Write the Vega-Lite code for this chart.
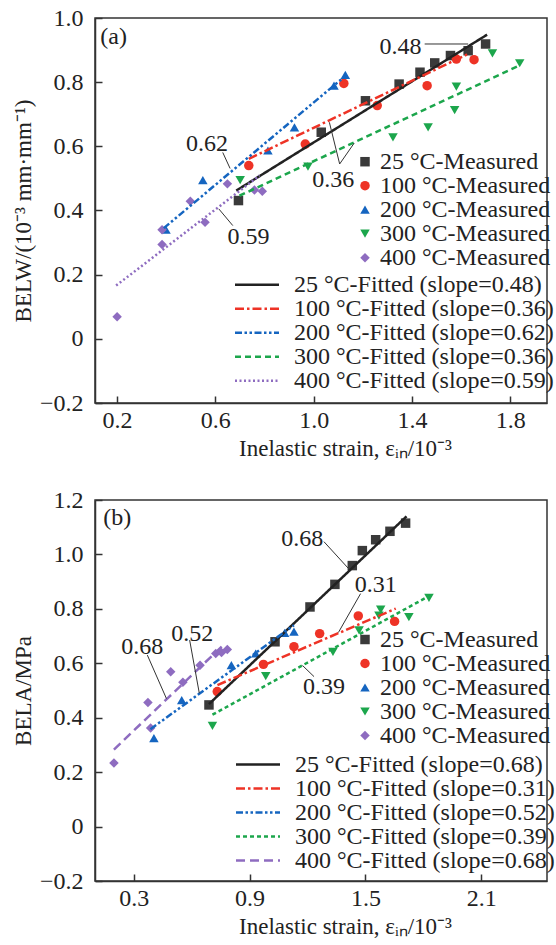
{
  "$schema": "https://vega.github.io/schema/vega-lite/v6.json",
  "padding": {"left": 11, "top": 5, "right": 5, "bottom": 5},
  "background": "white",
  "config": {
    "font": "Liberation Serif",
    "view": {"stroke": "#333333", "strokeWidth": 1.5},
    "axis": {"grid": false, "domainColor": "#333333", "domainWidth": 1.5, "tickColor": "#333333", "tickWidth": 1.5, "tickSize": -7, "labelPadding": 12, "labelFont": "Liberation Serif", "labelFontSize": 24, "labelColor": "#222222", "titleFont": "Liberation Serif", "titleFontSize": 23, "titleFontWeight": "normal", "titleColor": "#222222"},
    "legend": {"labelFont": "Liberation Serif", "labelFontSize": 24, "labelColor": "#222222", "padding": 0, "titlePadding": 0, "labelLimit": 500},
    "concat": {"spacing": 26}
  },
  "resolve": {"scale": {"color": "independent", "shape": "independent", "strokeDash": "independent"}, "legend": {"color": "independent", "shape": "independent", "strokeDash": "independent"}},
  "vconcat": [
    {
      "width": 452,
      "height": 385,
      "resolve": {"scale": {"color": "independent", "shape": "independent", "strokeDash": "independent"}, "legend": {"color": "independent", "shape": "independent", "strokeDash": "independent"}},
      "layer": [
        {
          "data": {"values": [
            {"T": "25 °C-Measured", "x": 0.694, "y": 0.431}, {"T": "25 °C-Measured", "x": 1.031, "y": 0.644}, {"T": "25 °C-Measured", "x": 1.211, "y": 0.742}, {"T": "25 °C-Measured", "x": 1.348, "y": 0.794}, {"T": "25 °C-Measured", "x": 1.433, "y": 0.831}, {"T": "25 °C-Measured", "x": 1.493, "y": 0.86}, {"T": "25 °C-Measured", "x": 1.557, "y": 0.883}, {"T": "25 °C-Measured", "x": 1.629, "y": 0.898}, {"T": "25 °C-Measured", "x": 1.7, "y": 0.919},
            {"T": "100 °C-Measured", "x": 0.736, "y": 0.54}, {"T": "100 °C-Measured", "x": 0.966, "y": 0.607}, {"T": "100 °C-Measured", "x": 1.123, "y": 0.796}, {"T": "100 °C-Measured", "x": 1.259, "y": 0.727}, {"T": "100 °C-Measured", "x": 1.462, "y": 0.789}, {"T": "100 °C-Measured", "x": 1.581, "y": 0.872}, {"T": "100 °C-Measured", "x": 1.653, "y": 0.87},
            {"T": "200 °C-Measured", "x": 0.399, "y": 0.34}, {"T": "200 °C-Measured", "x": 0.549, "y": 0.495}, {"T": "200 °C-Measured", "x": 0.814, "y": 0.587}, {"T": "200 °C-Measured", "x": 0.922, "y": 0.659}, {"T": "200 °C-Measured", "x": 1.083, "y": 0.789}, {"T": "200 °C-Measured", "x": 1.129, "y": 0.823},
            {"T": "300 °C-Measured", "x": 0.701, "y": 0.495}, {"T": "300 °C-Measured", "x": 0.977, "y": 0.537}, {"T": "300 °C-Measured", "x": 1.323, "y": 0.628}, {"T": "300 °C-Measured", "x": 1.466, "y": 0.659}, {"T": "300 °C-Measured", "x": 1.574, "y": 0.713}, {"T": "300 °C-Measured", "x": 1.581, "y": 0.786}, {"T": "300 °C-Measured", "x": 1.728, "y": 0.89}, {"T": "300 °C-Measured", "x": 1.839, "y": 0.859},
            {"T": "400 °C-Measured", "x": 0.2, "y": 0.069}, {"T": "400 °C-Measured", "x": 0.383, "y": 0.294}, {"T": "400 °C-Measured", "x": 0.383, "y": 0.34}, {"T": "400 °C-Measured", "x": 0.498, "y": 0.429}, {"T": "400 °C-Measured", "x": 0.558, "y": 0.363}, {"T": "400 °C-Measured", "x": 0.649, "y": 0.483}, {"T": "400 °C-Measured", "x": 0.759, "y": 0.464}, {"T": "400 °C-Measured", "x": 0.791, "y": 0.46}
          ]},
          "mark": {"type": "point", "filled": true, "opacity": 1, "size": 90},
          "encoding": {
            "x": {"field": "x", "type": "quantitative", "scale": {"domain": [0.11, 1.95], "nice": false, "zero": false}, "axis": {"values": [0.2, 0.6, 1.0, 1.4, 1.8], "format": ".1f", "title": "Inelastic strain, εᵢₙ/10⁻³", "titlePadding": 5, "labelPadding": 12, "titleX": 250}},
            "y": {"field": "y", "type": "quantitative", "scale": {"domain": [-0.2, 1.0], "nice": false, "zero": false}, "axis": {"values": [-0.2, 0, 0.2, 0.4, 0.6, 0.8, 1.0], "labelExpr": "datum.value == 0 ? '0' : format(datum.value, '.1f')", "title": "BELW/(10⁻³ mm·mm⁻¹)", "titlePadding": 4, "labelPadding": 19}},
            "color": {"field": "T", "type": "nominal", "scale": {"domain": ["25 °C-Measured", "100 °C-Measured", "200 °C-Measured", "300 °C-Measured", "400 °C-Measured"], "range": ["#3a3a3a", "#ee3326", "#1565c0", "#1ca64c", "#8e6cc0"]}, "legend": {"orient": "none", "legendX": 258, "legendY": 131.7, "title": null, "symbolSize": 90, "labelOffset": 3, "rowPadding": -0.7}},
            "shape": {"field": "T", "type": "nominal", "scale": {"domain": ["25 °C-Measured", "100 °C-Measured", "200 °C-Measured", "300 °C-Measured", "400 °C-Measured"], "range": ["square", "circle", "triangle-up", "triangle-down", "diamond"]}, "legend": {"orient": "none", "legendX": 258, "legendY": 131.7, "title": null, "symbolSize": 90, "labelOffset": 3, "rowPadding": -0.7}}
          }
        },
        {
          "data": {"values": [
            {"F": "25 °C-Fitted (slope=0.48)", "x": 0.685, "y": 0.462}, {"F": "25 °C-Fitted (slope=0.48)", "x": 1.706, "y": 0.948},
            {"F": "100 °C-Fitted (slope=0.36)", "x": 0.736, "y": 0.561}, {"F": "100 °C-Fitted (slope=0.36)", "x": 1.629, "y": 0.888},
            {"F": "200 °C-Fitted (slope=0.62)", "x": 0.39, "y": 0.345}, {"F": "200 °C-Fitted (slope=0.62)", "x": 1.13, "y": 0.82},
            {"F": "300 °C-Fitted (slope=0.36)", "x": 0.698, "y": 0.446}, {"F": "300 °C-Fitted (slope=0.36)", "x": 1.835, "y": 0.851},
            {"F": "400 °C-Fitted (slope=0.59)", "x": 0.196, "y": 0.166}, {"F": "400 °C-Fitted (slope=0.59)", "x": 0.78, "y": 0.509}
          ]},
          "mark": {"type": "line", "strokeWidth": 2.5},
          "encoding": {
            "x": {"field": "x", "type": "quantitative"},
            "y": {"field": "y", "type": "quantitative"},
            "color": {"field": "F", "type": "nominal", "scale": {"domain": ["25 °C-Fitted (slope=0.48)", "100 °C-Fitted (slope=0.36)", "200 °C-Fitted (slope=0.62)", "300 °C-Fitted (slope=0.36)", "400 °C-Fitted (slope=0.59)"], "range": ["#222222", "#ee3326", "#1565c0", "#1ca64c", "#8e6cc0"]}, "legend": {"orient": "none", "legendX": 150, "legendY": 254.7, "title": null, "symbolType": "M-4,0H4", "symbolSize": 121, "symbolStrokeWidth": 2.5, "labelOffset": 25, "rowPadding": -0.7}},
            "strokeDash": {"field": "F", "type": "nominal", "scale": {"domain": ["25 °C-Fitted (slope=0.48)", "100 °C-Fitted (slope=0.36)", "200 °C-Fitted (slope=0.62)", "300 °C-Fitted (slope=0.36)", "400 °C-Fitted (slope=0.59)"], "range": [[1, 0], [9, 3, 2.5, 3], [7, 2.5, 2.5, 2.5, 2.5, 2.5], [6, 4], [2, 2.5]]}, "legend": {"orient": "none", "legendX": 150, "legendY": 254.7, "title": null, "symbolType": "M-4,0H4", "symbolSize": 121, "symbolStrokeWidth": 2.5, "labelOffset": 25, "rowPadding": -0.7}}
          }
        },
        {
          "data": {"values": [
            {"x": 1.452, "y": 0.919, "x2": 1.629, "y2": 0.919},
            {"x": 0.63, "y": 0.581, "x2": 0.66, "y2": 0.531},
            {"x": 1.106, "y": 0.545, "x2": 1.064, "y2": 0.675},
            {"x": 1.106, "y": 0.545, "x2": 1.165, "y2": 0.61},
            {"x": 0.671, "y": 0.353, "x2": 0.614, "y2": 0.405}
          ]},
          "mark": {"type": "rule", "color": "#333333", "strokeWidth": 1},
          "encoding": {
            "x": {"field": "x", "type": "quantitative"},
            "y": {"field": "y", "type": "quantitative"},
            "x2": {"field": "x2"},
            "y2": {"field": "y2"}
          }
        },
        {
          "data": {"values": [
            {"x": 1.354, "y": 0.911, "label": "0.48"},
            {"x": 0.566, "y": 0.607, "label": "0.62"},
            {"x": 1.08, "y": 0.494, "label": "0.36"},
            {"x": 0.735, "y": 0.317, "label": "0.59"},
            {"x": 0.186, "y": 0.94, "label": "(a)"}
          ]},
          "mark": {"type": "text", "font": "Liberation Serif", "fontSize": 24, "color": "#222222"},
          "encoding": {
            "x": {"field": "x", "type": "quantitative"},
            "y": {"field": "y", "type": "quantitative"},
            "text": {"field": "label"}
          }
        }
      ]
    },
    {
      "width": 452,
      "height": 381,
      "resolve": {"scale": {"color": "independent", "shape": "independent", "strokeDash": "independent"}, "legend": {"color": "independent", "shape": "independent", "strokeDash": "independent"}},
      "layer": [
        {
          "data": {"values": [
            {"T": "25 °C-Measured", "x": 0.69, "y": 0.447}, {"T": "25 °C-Measured", "x": 1.032, "y": 0.679}, {"T": "25 °C-Measured", "x": 1.213, "y": 0.807}, {"T": "25 °C-Measured", "x": 1.342, "y": 0.89}, {"T": "25 °C-Measured", "x": 1.432, "y": 0.959}, {"T": "25 °C-Measured", "x": 1.484, "y": 1.014}, {"T": "25 °C-Measured", "x": 1.553, "y": 1.054}, {"T": "25 °C-Measured", "x": 1.627, "y": 1.085}, {"T": "25 °C-Measured", "x": 1.708, "y": 1.115},
            {"T": "100 °C-Measured", "x": 0.733, "y": 0.496}, {"T": "100 °C-Measured", "x": 0.972, "y": 0.596}, {"T": "100 °C-Measured", "x": 1.13, "y": 0.661}, {"T": "100 °C-Measured", "x": 1.263, "y": 0.709}, {"T": "100 °C-Measured", "x": 1.463, "y": 0.774}, {"T": "100 °C-Measured", "x": 1.651, "y": 0.754},
            {"T": "200 °C-Measured", "x": 0.405, "y": 0.325}, {"T": "200 °C-Measured", "x": 0.549, "y": 0.465}, {"T": "200 °C-Measured", "x": 0.806, "y": 0.593}, {"T": "200 °C-Measured", "x": 0.932, "y": 0.636}, {"T": "200 °C-Measured", "x": 1.082, "y": 0.712}, {"T": "200 °C-Measured", "x": 1.13, "y": 0.716},
            {"T": "300 °C-Measured", "x": 0.708, "y": 0.37}, {"T": "300 °C-Measured", "x": 0.984, "y": 0.553}, {"T": "300 °C-Measured", "x": 1.332, "y": 0.642}, {"T": "300 °C-Measured", "x": 1.467, "y": 0.721}, {"T": "300 °C-Measured", "x": 1.579, "y": 0.797}, {"T": "300 °C-Measured", "x": 1.57, "y": 0.775}, {"T": "300 °C-Measured", "x": 1.725, "y": 0.77}, {"T": "300 °C-Measured", "x": 1.829, "y": 0.84},
            {"T": "400 °C-Measured", "x": 0.198, "y": 0.234}, {"T": "400 °C-Measured", "x": 0.388, "y": 0.362}, {"T": "400 °C-Measured", "x": 0.374, "y": 0.456}, {"T": "400 °C-Measured", "x": 0.492, "y": 0.569}, {"T": "400 °C-Measured", "x": 0.555, "y": 0.53}, {"T": "400 °C-Measured", "x": 0.644, "y": 0.593}, {"T": "400 °C-Measured", "x": 0.725, "y": 0.636}, {"T": "400 °C-Measured", "x": 0.755, "y": 0.64}, {"T": "400 °C-Measured", "x": 0.785, "y": 0.651}
          ]},
          "mark": {"type": "point", "filled": true, "opacity": 1, "size": 90},
          "encoding": {
            "x": {"field": "x", "type": "quantitative", "scale": {"domain": [0.1, 2.44], "nice": false, "zero": false}, "axis": {"values": [0.3, 0.9, 1.5, 2.1], "format": ".1f", "title": "Inelastic strain, εᵢₙ/10⁻³", "titlePadding": 5, "labelPadding": 12, "titleX": 250}},
            "y": {"field": "y", "type": "quantitative", "scale": {"domain": [-0.2, 1.2], "nice": false, "zero": false}, "axis": {"values": [-0.2, 0, 0.2, 0.4, 0.6, 0.8, 1.0, 1.2], "labelExpr": "datum.value == 0 ? '0' : format(datum.value, '.1f')", "title": "BELA/MPa", "titlePadding": 4, "labelPadding": 19}},
            "color": {"field": "T", "type": "nominal", "scale": {"domain": ["25 °C-Measured", "100 °C-Measured", "200 °C-Measured", "300 °C-Measured", "400 °C-Measured"], "range": ["#3a3a3a", "#ee3326", "#1565c0", "#1ca64c", "#8e6cc0"]}, "legend": {"orient": "none", "legendX": 258, "legendY": 127.5, "title": null, "symbolSize": 90, "labelOffset": 3, "rowPadding": -0.7}},
            "shape": {"field": "T", "type": "nominal", "scale": {"domain": ["25 °C-Measured", "100 °C-Measured", "200 °C-Measured", "300 °C-Measured", "400 °C-Measured"], "range": ["square", "circle", "triangle-up", "triangle-down", "diamond"]}, "legend": {"orient": "none", "legendX": 258, "legendY": 127.5, "title": null, "symbolSize": 90, "labelOffset": 3, "rowPadding": -0.7}}
          }
        },
        {
          "data": {"values": [
            {"F": "25 °C-Fitted (slope=0.68)", "x": 0.69, "y": 0.45}, {"F": "25 °C-Fitted (slope=0.68)", "x": 1.713, "y": 1.14},
            {"F": "100 °C-Fitted (slope=0.31)", "x": 0.734, "y": 0.52}, {"F": "100 °C-Fitted (slope=0.31)", "x": 1.657, "y": 0.801},
            {"F": "200 °C-Fitted (slope=0.52)", "x": 0.387, "y": 0.358}, {"F": "200 °C-Fitted (slope=0.52)", "x": 1.13, "y": 0.74},
            {"F": "300 °C-Fitted (slope=0.39)", "x": 0.708, "y": 0.411}, {"F": "300 °C-Fitted (slope=0.39)", "x": 1.834, "y": 0.849},
            {"F": "400 °C-Fitted (slope=0.68)", "x": 0.198, "y": 0.283}, {"F": "400 °C-Fitted (slope=0.68)", "x": 0.76, "y": 0.664}
          ]},
          "mark": {"type": "line", "strokeWidth": 2.5},
          "encoding": {
            "x": {"field": "x", "type": "quantitative"},
            "y": {"field": "y", "type": "quantitative"},
            "color": {"field": "F", "type": "nominal", "scale": {"domain": ["25 °C-Fitted (slope=0.68)", "100 °C-Fitted (slope=0.31)", "200 °C-Fitted (slope=0.52)", "300 °C-Fitted (slope=0.39)", "400 °C-Fitted (slope=0.68)"], "range": ["#222222", "#ee3326", "#1565c0", "#1ca64c", "#8e6cc0"]}, "legend": {"orient": "none", "legendX": 151, "legendY": 252.5, "title": null, "symbolType": "M-4,0H4", "symbolSize": 121, "symbolStrokeWidth": 2.5, "labelOffset": 25, "rowPadding": -0.7}},
            "strokeDash": {"field": "F", "type": "nominal", "scale": {"domain": ["25 °C-Fitted (slope=0.68)", "100 °C-Fitted (slope=0.31)", "200 °C-Fitted (slope=0.52)", "300 °C-Fitted (slope=0.39)", "400 °C-Fitted (slope=0.68)"], "range": [[1, 0], [9, 3, 2.5, 3], [7, 2.5, 2.5, 2.5, 2.5, 2.5], [4, 3], [9, 5]]}, "legend": {"orient": "none", "legendX": 151, "legendY": 252.5, "title": null, "symbolType": "M-4,0H4", "symbolSize": 121, "symbolStrokeWidth": 2.5, "labelOffset": 25, "rowPadding": -0.7}}
          }
        },
        {
          "data": {"values": [
            {"x": 1.285, "y": 1.047, "x2": 1.41, "y2": 0.95},
            {"x": 1.475, "y": 0.856, "x2": 1.36, "y2": 0.713},
            {"x": 1.234, "y": 0.551, "x2": 1.174, "y2": 0.592},
            {"x": 0.59, "y": 0.685, "x2": 0.64, "y2": 0.49},
            {"x": 0.371, "y": 0.63, "x2": 0.47, "y2": 0.47}
          ]},
          "mark": {"type": "rule", "color": "#333333", "strokeWidth": 1},
          "encoding": {
            "x": {"field": "x", "type": "quantitative"},
            "y": {"field": "y", "type": "quantitative"},
            "x2": {"field": "x2"},
            "y2": {"field": "y2"}
          }
        },
        {
          "data": {"values": [
            {"x": 1.173, "y": 1.057, "label": "0.68"},
            {"x": 1.553, "y": 0.888, "label": "0.31"},
            {"x": 1.285, "y": 0.514, "label": "0.39"},
            {"x": 0.604, "y": 0.709, "label": "0.52"},
            {"x": 0.345, "y": 0.661, "label": "0.68"},
            {"x": 0.215, "y": 1.135, "label": "(b)"}
          ]},
          "mark": {"type": "text", "font": "Liberation Serif", "fontSize": 24, "color": "#222222"},
          "encoding": {
            "x": {"field": "x", "type": "quantitative"},
            "y": {"field": "y", "type": "quantitative"},
            "text": {"field": "label"}
          }
        }
      ]
    }
  ]
}
